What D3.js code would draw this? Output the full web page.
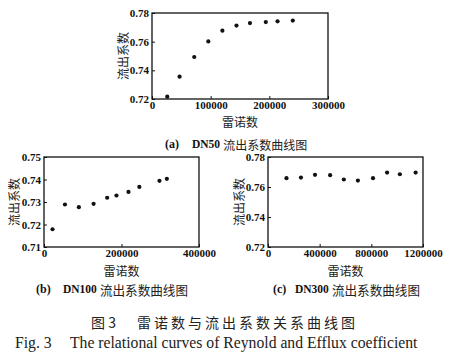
<!DOCTYPE html>
<html><head><meta charset="utf-8">
<script src="https://cdn.jsdelivr.net/npm/d3@7"></script>
<style>
body{margin:0;background:#fff;}
svg{display:block;}
</style></head>
<body>
<svg id="chart" width="452" height="360"></svg>
<script>
// ---- data ----
const dn50Re  = [26000, 47000, 72000, 96000, 120000, 144000, 167000, 194000, 214000, 240000];
const dn50Cd  = [0.7216, 0.7356, 0.7493, 0.7602, 0.7677, 0.7712, 0.7730, 0.7737, 0.7742, 0.7747];
const dn100Re = [22000, 54000, 90000, 128000, 163000, 187000, 218000, 246000, 298000, 317000];
const dn100Cd = [0.7179, 0.7289, 0.7277, 0.7292, 0.7319, 0.7329, 0.7345, 0.7367, 0.7394, 0.7403];
const dn300Re = [143000, 255000, 364000, 481000, 587000, 696000, 813000, 922000, 1021000, 1143000];
const dn300Cd = [0.7659, 0.7663, 0.7681, 0.7679, 0.7650, 0.7643, 0.7659, 0.7696, 0.7685, 0.7696];

const xTicksA = [0, 100000, 200000, 300000];
const yTicksA = [0.72, 0.74, 0.76, 0.78];
const xTicksB = [0, 200000, 400000];
const yTicksB = [0.71, 0.72, 0.73, 0.74, 0.75];
const xTicksC = [0, 400000, 800000, 1200000];
const yTicksC = [0.72, 0.74, 0.76, 0.78];

const xTitle = "雷诺数";
const yTitle = "流出系数";
const captionTag = ["(a)", "(b)", "(c)"];
const captionDN = ["DN50", "DN100", "DN300"];
const captionCN = "流出系数曲线图";
const figTitleCN1 = "图 3";
const figTitleCN2 = "雷诺数与流出系数关系曲线图";
const figTitleEN1 = "Fig. 3";
const figTitleEN2 = "The relational curves of Reynold and Efflux coefficient";

const svg = d3.select("#chart");
const serif = "'Liberation Serif','Times New Roman',serif";
const cjk = "'Noto Sans CJK SC','Noto Sans CJK JP',sans-serif";

const panels = [
  {re: dn50Re, cd: dn50Cd, xd:[0,300000], yd:[0.72,0.78], xt:xTicksA, yt:yTicksA,
   x0:152, x1:328, y0:13, y1:99, ytx:122, xty:121, capY:144, cap:[165,192], cn:12},
  {re: dn100Re, cd: dn100Cd, xd:[0,400000], yd:[0.71,0.75], xt:xTicksB, yt:yTicksB,
   x0:44, x1:199, y0:157, y1:247, ytx:13, xty:270, capY:289, cap:[36,63], cn:12.6},
  {re: dn300Re, cd: dn300Cd, xd:[0,1200000], yd:[0.72,0.78], xt:xTicksC, yt:yTicksC,
   x0:268, x1:423, y0:157, y1:247, ytx:238, xty:270, capY:289, cap:[273,295], cn:12.6}
];

panels.forEach((p, i) => {
  const x = d3.scaleLinear().domain(p.xd).range([p.x0, p.x1]);
  const y = d3.scaleLinear().domain(p.yd).range([p.y1, p.y0]);
  const g = svg.append("g");

  const xa = g.append("g").attr("transform", `translate(0,${p.y1})`)
    .call(d3.axisBottom(x).tickValues(p.xt).tickFormat(d3.format("d")).tickSize(-3).tickPadding(2));
  const ya = g.append("g").attr("transform", `translate(${p.x0},0)`)
    .call(d3.axisLeft(y).tickValues(p.yt).tickFormat(d3.format(".2f")).tickSize(-3).tickPadding(3));
  [xa, ya].forEach(a => {
    a.select(".domain").remove();
    a.selectAll(".tick line").attr("stroke", "#111").attr("stroke-width", 1);
    a.selectAll(".tick text").attr("fill", "#111")
      .style("font-family", serif).style("font-weight", "bold").style("font-size", "11px");
  });

  g.append("rect").attr("x", p.x0).attr("y", p.y0)
    .attr("width", p.x1 - p.x0).attr("height", p.y1 - p.y0)
    .attr("fill", "none").attr("stroke", "#111").attr("stroke-width", 1.3);

  g.selectAll("circle.pt").data(p.re.map((r, k) => [r, p.cd[k]])).enter()
    .append("circle").attr("class", "pt")
    .attr("cx", d => x(d[0])).attr("cy", d => y(d[1])).attr("r", 2.1).attr("fill", "#111");

  g.append("text").text(yTitle)
    .attr("transform", `translate(${p.ytx},${(p.y0 + p.y1) / 2}) rotate(-90)`)
    .attr("text-anchor", "middle").attr("dominant-baseline", "central")
    .style("font-family", cjk).style("font-size", "12px").attr("fill", "#222");

  g.append("text").text(xTitle)
    .attr("x", (p.x0 + p.x1) / 2).attr("y", p.xty)
    .attr("text-anchor", "middle").attr("dominant-baseline", "central")
    .style("font-family", cjk).style("font-size", "12px").attr("fill", "#222");

  g.append("text").text(captionTag[i]).attr("x", p.cap[0]).attr("y", p.capY)
    .attr("dominant-baseline", "central").attr("fill", "#111")
    .style("font-family", serif).style("font-weight", "bold").style("font-size", "12px");
  const dn = g.append("text").text(captionDN[i]).attr("x", p.cap[1]).attr("y", p.capY)
    .attr("dominant-baseline", "central").attr("fill", "#111")
    .style("font-family", serif).style("font-weight", "bold").style("font-size", "11.5px");
  const dnW = dn.node().getComputedTextLength();
  g.append("text").text(captionCN).attr("x", p.cap[1] + dnW + 3).attr("y", p.capY)
    .attr("dominant-baseline", "central").attr("fill", "#222")
    .style("font-family", cjk).style("font-size", p.cn + "px");
});

svg.append("text").text(figTitleCN1).attr("x", 91).attr("y", 322)
  .attr("dominant-baseline", "central")
  .style("font-family", cjk).style("font-size", "14px").attr("fill", "#222");
svg.append("text").text(figTitleCN2).attr("x", 137).attr("y", 322)
  .attr("dominant-baseline", "central")
  .style("font-family", cjk).style("font-size", "14px").style("letter-spacing", "3px").attr("fill", "#222");
svg.append("text").text(figTitleEN1).attr("x", 15).attr("y", 342)
  .attr("dominant-baseline", "central")
  .style("font-family", serif).style("font-size", "15.7px").attr("fill", "#222");
svg.append("text").text(figTitleEN2).attr("x", 70).attr("y", 342)
  .attr("dominant-baseline", "central")
  .style("font-family", serif).style("font-size", "15.7px").attr("fill", "#222");
</script>
</body></html>
